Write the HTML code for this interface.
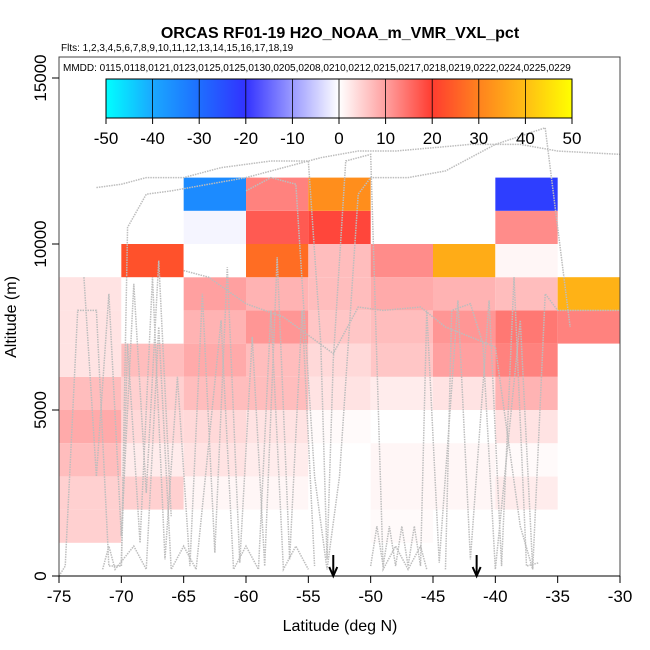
<!DOCTYPE html>
<html><head><meta charset="utf-8"><style>
body{margin:0;background:#fff;width:650px;height:650px;overflow:hidden}
svg{display:block;font-family:"Liberation Sans",sans-serif}
</style></head><body>
<svg id="chart" width="650" height="650">
<text x="340" y="38" text-anchor="middle" font-size="16" font-weight="bold">ORCAS RF01-19 H2O_NOAA_m_VMR_VXL_pct</text>
<text x="61" y="51" font-size="10">Flts: 1,2,3,4,5,6,7,8,9,10,11,12,13,14,15,16,17,18,19</text>
<g id="cells"></g>
<g id="tracks"></g>
<rect x="59" y="57" width="561" height="519" fill="none" stroke="#444" stroke-width="1"/>
<text x="63" y="71" font-size="10">MMDD: 0115,0118,0121,0123,0125,0125,0130,0205,0208,0210,0212,0215,0217,0218,0219,0222,0224,0225,0229</text>
<defs><linearGradient id="cb" x1="0" x2="1" y1="0" y2="0">
<stop offset="0" stop-color="#00ffff"/><stop offset="0.1" stop-color="#1aa8ff"/><stop offset="0.2" stop-color="#1e6eff"/><stop offset="0.3" stop-color="#3232ff"/><stop offset="0.4" stop-color="#9a9aff"/><stop offset="0.5" stop-color="#ffffff"/><stop offset="0.6" stop-color="#ffa0a0"/><stop offset="0.7" stop-color="#ff3c30"/><stop offset="0.8" stop-color="#ff821e"/><stop offset="0.9" stop-color="#ffbe14"/><stop offset="1" stop-color="#ffff00"/>
</linearGradient></defs>
<g id="colorbar"></g>
<g id="axes"></g>
<text x="340" y="631" text-anchor="middle" font-size="16">Latitude (deg N)</text>
<text transform="translate(16,317) rotate(-90)" text-anchor="middle" font-size="16">Altitude (m)</text>
</svg>
<script>
const latBins=[-75,-70,-65,-60,-55,-50,-45,-40,-35];
const altBins=[0,1000,2000,3000,4000,5000,6000,7000,8000,9000,10000,11000];
// values[row][col], row = altitude bin, null = no data
const values=[
[null,null,null,null,null,null,null,null,null],
[5,0,0,0,0,0.5,0,null,null],
[5,5,1,1,0,1,1,2,null],
[7,2,3,2,0,1,1,0.5,null],
[9,4,4,3,0.5,0,0,3,null],
[7,5,7,7,3,2,3,8,null],
[3,7,9,7,4,6,10,13,null],
[3,0,8,11,6,7,11,14,13],
[3,0,10,8,7,9,8,7,38],
[null,23,0,27,7,12,37,1,null],
[null,null,-1,17,19,null,null,12,null],
[null,null,-35,13,32,null,null,-22,null]];
const xTicks=[-75,-70,-65,-60,-55,-50,-45,-40,-35,-30];
const yTicks=[0,5000,10000,15000];
const cbTicks=[-50,-40,-30,-20,-10,0,10,20,30,40,50];
const arrowLats=[-53,-41.5];
const tracks=[
[[-75,0],[-74.5,300],[-73.5,8000],[-72,8000],[-71,300],[-70,300],[-69.5,10500],[-68,11500],[-66,11600],[-63,11800],[-60,12000],[-57,12300],[-54,12600],[-51,12800],[-48,12800],[-45,12900],[-42,13000],[-38,13000],[-35,12800],[-30,12700]],
[[-71.5,200],[-71,900],[-70.5,200],[-69,900],[-68,200],[-67,7500],[-66,200],[-65,900],[-64,200],[-62,7700],[-61,200],[-60,900],[-59,200],[-58,8000],[-57,200],[-56,900],[-55,200]],
[[-72,11700],[-70,11800],[-68,12000],[-65,12000],[-62,12300],[-60,12400],[-58,12500],[-55,12500],[-54,7000],[-53.5,500],[-53,6500],[-52,12500],[-50,12700],[-49,200],[-48,900],[-47,200],[-46,900],[-45.5,200]],
[[-44,200],[-43.5,8000],[-42,8200],[-41,7000],[-40,200],[-38,7700],[-37,200],[-36,8500],[-35,8000],[-30,8000]],
[[-65,9200],[-63,9000],[-60,8200],[-57,7800],[-53,6700],[-51,8100],[-49,8000],[-46,8100],[-44,7500],[-40,6900],[-38,1500],[-37,200]],
[[-60,11600],[-58,12000],[-56,11800],[-54.5,3000],[-53.5,200],[-52.5,3000],[-51,11500],[-50,12000],[-47,12000],[-44,12200],[-40,13000],[-36,13500],[-34,7500]],
[[-70,300],[-69.5,7000],[-68.5,1000],[-67.5,9000],[-66.5,500],[-65.5,6000],[-64.5,300],[-63.5,8500],[-62.5,700],[-61.5,9300],[-60.5,400],[-59.5,7200],[-58.5,300],[-57.5,9600],[-56.5,500],[-55.5,8000],[-54.5,300]],
[[-50,300],[-49.5,1500],[-49,300],[-48.5,1500],[-48,300],[-47.5,1500],[-47,300],[-46.5,1500],[-46,300],[-45.5,8000],[-44.5,400],[-43,8300],[-42,500],[-40.5,8300],[-39.5,300],[-38.5,9000],[-37.5,300],[-36.5,400]],
[[-73,9000],[-72,3000],[-71,8500],[-70,1200],[-69,8800],[-68,2500],[-67,9500],[-66,1800]]
];
const X0=59,X1=620,Y0=576,PX=33.2/1000;
const sx=v=>X0+(v+75)/45*(X1-X0);
const sy=v=>Y0-v*PX;
const NS='http://www.w3.org/2000/svg';
function mk(t,a,p){const e=document.createElementNS(NS,t);for(const k in a)e.setAttribute(k,a[k]);p.appendChild(e);return e;}
const stops=[[-50,[0,255,255]],[-40,[26,168,255]],[-30,[30,110,255]],[-20,[50,50,255]],[-10,[154,154,255]],[0,[255,255,255]],[10,[255,160,160]],[20,[255,60,48]],[30,[255,130,30]],[40,[255,190,20]],[50,[255,255,0]]];
function col(v){v=Math.max(-50,Math.min(50,v));for(let i=0;i<stops.length-1;i++){const[a,ca]=stops[i],[b,cb]=stops[i+1];if(v<=b){const t=(v-a)/(b-a);return 'rgb('+ca.map((c,j)=>Math.round(c+(cb[j]-c)*t)).join(',')+')';}}}
const cells=document.getElementById('cells');
values.forEach((row,r)=>row.forEach((v,c)=>{if(v===null)return;
const x=sx(latBins[c]),y=sy(altBins[r]+1000);
const e=mk('rect',{x:x,y:y,width:sx(latBins[c]+5)-x,height:sy(altBins[r])-y,fill:col(v)},cells);

}));
const tg=document.getElementById('tracks');
tracks.forEach(t=>{const e=mk('polyline',{points:t.map(p=>sx(p[0])+','+sy(p[1])).join(' '),fill:'none',stroke:'#bdbdbd','stroke-width':1.5,'stroke-dasharray':'1.5 1'},tg);

});
const cbg=document.getElementById('colorbar');
const CB0=106,CB1=572,cbx=v=>CB0+(v+50)/100*(CB1-CB0);
mk('rect',{x:CB0,y:79,width:CB1-CB0,height:39,fill:'url(#cb)',stroke:'#000','stroke-width':1},cbg);
cbTicks.forEach(v=>{const x=cbx(v);
if(v>-50&&v<50)mk('line',{x1:x,x2:x,y1:79,y2:118,stroke:'#000','stroke-width':0.8},cbg);
mk('line',{x1:x,x2:x,y1:118,y2:124,stroke:'#000'},cbg);
const t=mk('text',{x:x,y:144,'text-anchor':'middle','font-size':17},cbg);t.textContent=v;

});
const ax=document.getElementById('axes');
mk('line',{x1:X0,x2:X1,y1:Y0,y2:Y0,stroke:'#000'},ax);
xTicks.forEach(v=>{const x=sx(v);mk('line',{x1:x,x2:x,y1:Y0,y2:Y0+7,stroke:'#000'},ax);
const t=mk('text',{x:x,y:602,'text-anchor':'middle','font-size':17},ax);t.textContent=v;

});
yTicks.forEach(v=>{const y=sy(v);mk('line',{x1:X0-7,x2:X0,y1:y,y2:y,stroke:'#000'},ax);
const t=mk('text',{transform:'translate(46,'+y+') rotate(-90)','text-anchor':'middle','font-size':17},ax);t.textContent=v;

});
arrowLats.forEach(v=>{const x=sx(v);
const g=mk('g',{},ax);


mk('line',{x1:x,x2:x,y1:555,y2:575,stroke:'#000','stroke-width':2},g);
mk('polyline',{points:(x-4)+',567 '+x+',576 '+(x+4)+',567',fill:'none',stroke:'#000','stroke-width':2},g);});
</script>
</body></html>
